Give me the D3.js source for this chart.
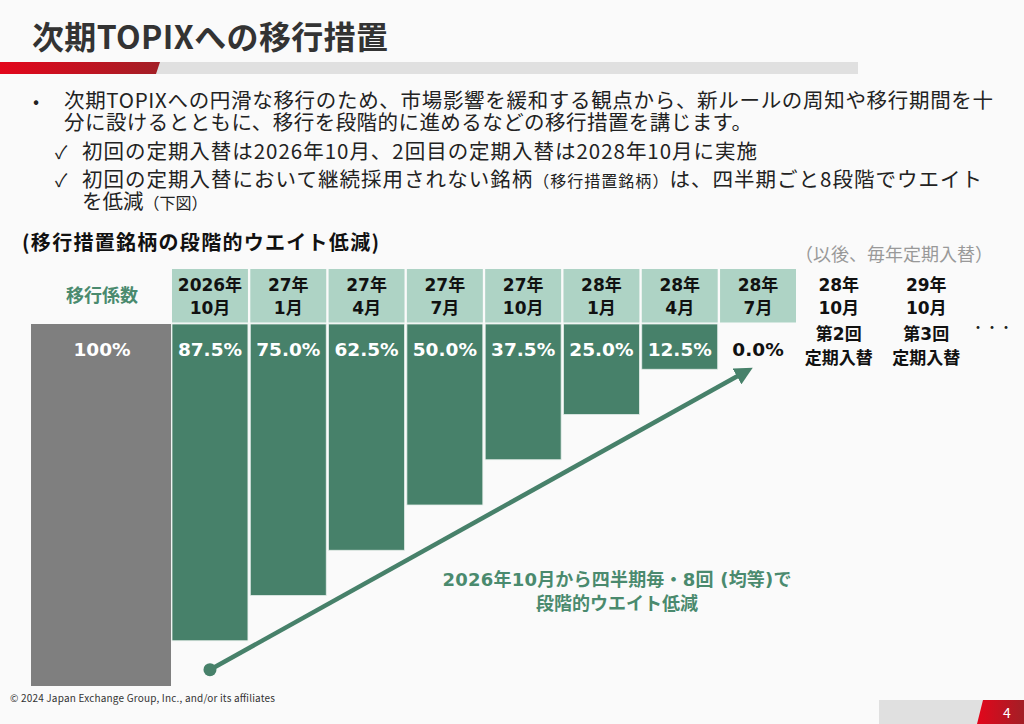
<!DOCTYPE html>
<html>
<head>
<meta charset="utf-8">
<script src="https://cdn.jsdelivr.net/npm/d3@7"></script>
<style>
body { margin: 0; background: #fafafa; }
text { font-family: "Noto Sans CJK JP", sans-serif; }
.num { font-family: "DejaVu Sans", "Noto Sans CJK JP", sans-serif; font-weight: bold; }
</style>
</head>
<body>
<div id="chart"></div>
<script>
// data
var periodYears = ["2026年", "27年", "27年", "27年", "27年", "28年", "28年", "28年"];
var periodMonths = ["10月", "1月", "4月", "7月", "10月", "1月", "4月", "7月"];
var weights = [87.5, 75.0, 62.5, 50.0, 37.5, 25.0, 12.5, 0.0];
var startWeight = 100;
var futureYears = ["28年", "29年"];
var futureMonths = ["10月", "10月"];
var futureNotes = ["第2回", "第3回"];

var bulletLines = [
  "次期TOPIXへの円滑な移行のため、市場影響を緩和する観点から、新ルールの周知や移行期間を十",
  "分に設けるとともに、移行を段階的に進めるなどの移行措置を講じます。"
];
var checkLines = [
  ["初回の定期入替は2026年10月、2回目の定期入替は2028年10月に実施"],
  ["初回の定期入替において継続採用されない銘柄", "（移行措置銘柄）", "は、四半期ごと8段階でウエイト", "を低減", "（下図）"]
];

var green = "#47816a", mint = "#aed3c5", gray = "#7f7f7f";

var svg = d3.select('#chart').append('svg')
  .attr('width', 1024).attr('height', 724)
  .style('display', 'block');

svg.append('rect').attr('width', 1024).attr('height', 724).attr('fill', '#fafafa');

// title + rule
svg.append('text').attr('x', 32).attr('y', 49)
  .attr('font-size', 32).attr('font-weight', 'bold').attr('fill', '#333')
  .attr('textLength', 356)
  .text('次期TOPIXへの移行措置');

var grad = svg.append('defs').append('linearGradient').attr('id', 'red');
grad.append('stop').attr('offset', '0%').attr('stop-color', '#e3061b');
grad.append('stop').attr('offset', '100%').attr('stop-color', '#a21f26');

svg.append('rect').attr('x', 0).attr('y', 62).attr('width', 858).attr('height', 12).attr('fill', '#e0e0e0');
svg.append('path').attr('d', 'M0,62 L160,62 L156,74 L0,74 Z').attr('fill', 'url(#red)');

// bullets
var fs = 20.5;
svg.append('text').attr('x', 33).attr('y', 108).attr('font-size', 18).attr('fill', '#222').text('•');
svg.append('text').attr('x', 64).attr('y', 108).attr('font-size', fs).attr('fill', '#222')
  .attr('textLength', 929).text(bulletLines[0]);
svg.append('text').attr('x', 64).attr('y', 130).attr('font-size', fs).attr('fill', '#222')
  .attr('textLength', 688).text(bulletLines[1]);
svg.append('text').attr('x', 55).attr('y', 159).attr('font-size', 18).attr('fill', '#222').text('✓');
svg.append('text').attr('x', 82).attr('y', 159).attr('font-size', fs).attr('fill', '#222')
  .attr('textLength', 675).text(checkLines[0][0]);
svg.append('text').attr('x', 55).attr('y', 187).attr('font-size', 18).attr('fill', '#222').text('✓');
var t2 = svg.append('text').attr('x', 82).attr('y', 187).attr('font-size', fs).attr('fill', '#222')
  .attr('textLength', 900);
t2.append('tspan').text(checkLines[1][0]);
t2.append('tspan').attr('font-size', 16).text(checkLines[1][1]);
t2.append('tspan').text(checkLines[1][2]);
var t3 = svg.append('text').attr('x', 82).attr('y', 209).attr('font-size', fs).attr('fill', '#222');
t3.append('tspan').text(checkLines[1][3]);
t3.append('tspan').attr('font-size', 16).text(checkLines[1][4]);

// chart title
svg.append('text').attr('x', 22).attr('y', 250)
  .attr('font-size', 20).attr('font-weight', 'bold').attr('fill', '#111')
  .attr('textLength', 357)
  .text('(移行措置銘柄の段階的ウエイト低減)');
svg.append('text').attr('x', 894).attr('y', 261).attr('text-anchor', 'middle')
  .attr('font-size', 18).attr('fill', '#999')
  .text('（以後、毎年定期入替）');

// scales
var x = d3.scaleBand()
  .domain(d3.range(weights.length))
  .range([172, 796])
  .paddingInner(0.03);
var xf = d3.scaleBand()
  .domain(d3.range(futureYears.length))
  .range([795, 970]);
var y = d3.scaleLinear().domain([0, 100]).range([324, 686]);

var headTop = 269, headBot = 322.5;

// header cells
var head = svg.append('g');
head.selectAll('rect')
  .data(weights)
  .enter().append('rect')
  .attr('x', function (d, i) { return x(i); })
  .attr('y', headTop)
  .attr('width', x.bandwidth())
  .attr('height', headBot - headTop)
  .attr('fill', mint);
head.selectAll('text.yr')
  .data(periodYears)
  .enter().append('text').attr('class', 'num yr')
  .attr('x', function (d, i) { return x(i) + x.bandwidth() / 2; })
  .attr('y', 291).attr('text-anchor', 'middle').attr('font-size', 17).attr('fill', '#111')
  .text(function (d) { return d; });
head.selectAll('text.mo')
  .data(periodMonths)
  .enter().append('text').attr('class', 'num mo')
  .attr('x', function (d, i) { return x(i) + x.bandwidth() / 2; })
  .attr('y', 314).attr('text-anchor', 'middle').attr('font-size', 17).attr('fill', '#111')
  .text(function (d) { return d; });

// start column (100%)
svg.append('text').attr('x', 102).attr('y', 302).attr('text-anchor', 'middle')
  .attr('font-size', 18).attr('font-weight', 'bold').attr('fill', '#4a8a6e')
  .text('移行係数');
svg.append('rect')
  .attr('x', 31).attr('y', y(0))
  .attr('width', 140).attr('height', y(startWeight) - y(0))
  .attr('fill', gray);
svg.append('text').attr('class', 'num')
  .attr('x', 102).attr('y', 356).attr('text-anchor', 'middle')
  .attr('font-size', 18.5).attr('fill', '#fff')
  .text(startWeight + '%');

// bars
var bars = svg.append('g');
bars.selectAll('rect')
  .data(weights)
  .enter().append('rect')
  .attr('x', function (d, i) { return x(i); })
  .attr('y', y(0))
  .attr('width', x.bandwidth())
  .attr('height', function (d) { return y(d) - y(0); })
  .attr('fill', green)
  .attr('stroke', '#e4ede9')
  .attr('stroke-width', 0.8);
bars.selectAll('text')
  .data(weights)
  .enter().append('text').attr('class', 'num')
  .attr('x', function (d, i) { return x(i) + x.bandwidth() / 2; })
  .attr('y', 356).attr('text-anchor', 'middle').attr('font-size', 18.5)
  .attr('fill', function (d) { return d > 0 ? '#fff' : '#111'; })
  .text(function (d) { return d.toFixed(1) + '%'; });

// future rebalances
var fut = svg.append('g');
futureYears.forEach(function (d, i) {
  var cx = xf(i) + xf.bandwidth() / 2;
  fut.append('text').attr('class', 'num').attr('x', cx).attr('y', 291)
    .attr('text-anchor', 'middle').attr('font-size', 17).attr('fill', '#111').text(d);
  fut.append('text').attr('class', 'num').attr('x', cx).attr('y', 314)
    .attr('text-anchor', 'middle').attr('font-size', 17).attr('fill', '#111').text(futureMonths[i]);
  fut.append('text').attr('class', 'num').attr('x', cx).attr('y', 340)
    .attr('text-anchor', 'middle').attr('font-size', 17).attr('fill', '#111').text(futureNotes[i]);
  fut.append('text').attr('class', 'num').attr('x', cx).attr('y', 364)
    .attr('text-anchor', 'middle').attr('font-size', 17).attr('fill', '#111').text('定期入替');
});
fut.append('text').attr('x', 992).attr('y', 332).attr('text-anchor', 'middle')
  .attr('font-size', 14).attr('fill', '#222').text('・・・');

// arrow
var x0 = x(0) + x.bandwidth() / 2, y0 = y(95.5);
var x1 = x(weights.length - 1) + x.bandwidth() / 2 - 10, y1 = y(12.8);
svg.append('defs').append('marker')
  .attr('id', 'head').attr('viewBox', '0 0 10 10')
  .attr('refX', 7).attr('refY', 5)
  .attr('markerWidth', 4).attr('markerHeight', 4)
  .attr('orient', 'auto')
  .append('path').attr('d', 'M0,0 L10,5 L0,10 Z').attr('fill', green);
svg.append('line')
  .attr('x1', x0).attr('y1', y0).attr('x2', x1).attr('y2', y1)
  .attr('stroke', green).attr('stroke-width', 4.5)
  .attr('marker-end', 'url(#head)');
svg.append('circle').attr('cx', x0).attr('cy', y0).attr('r', 6.5).attr('fill', green);

svg.append('text').attr('x', 617).attr('y', 586).attr('text-anchor', 'middle')
  .attr('class', 'num').attr('font-size', 18).attr('fill', '#4a8a6e')
  .attr('textLength', 349)
  .text('2026年10月から四半期毎・8回 (均等)で');
svg.append('text').attr('x', 617).attr('y', 610).attr('text-anchor', 'middle')
  .attr('class', 'num').attr('font-size', 18).attr('fill', '#4a8a6e')
  .text('段階的ウエイト低減');

// footer
svg.append('text').attr('x', 10).attr('y', 702)
  .attr('font-size', 10).attr('fill', '#333')
  .attr('textLength', 265)
  .text('© 2024 Japan Exchange Group, Inc., and/or its affiliates');
svg.append('rect').attr('x', 879).attr('y', 700).attr('width', 145).attr('height', 24).attr('fill', '#e0e0e0');
svg.append('path').attr('d', 'M983,700 L1024,700 L1024,724 L977,724 Z').attr('fill', 'url(#red)');
svg.append('text').attr('x', 1007).attr('y', 718).attr('text-anchor', 'middle')
  .attr('font-size', 14).attr('fill', '#fff').text('4');
</script>
</body>
</html>
